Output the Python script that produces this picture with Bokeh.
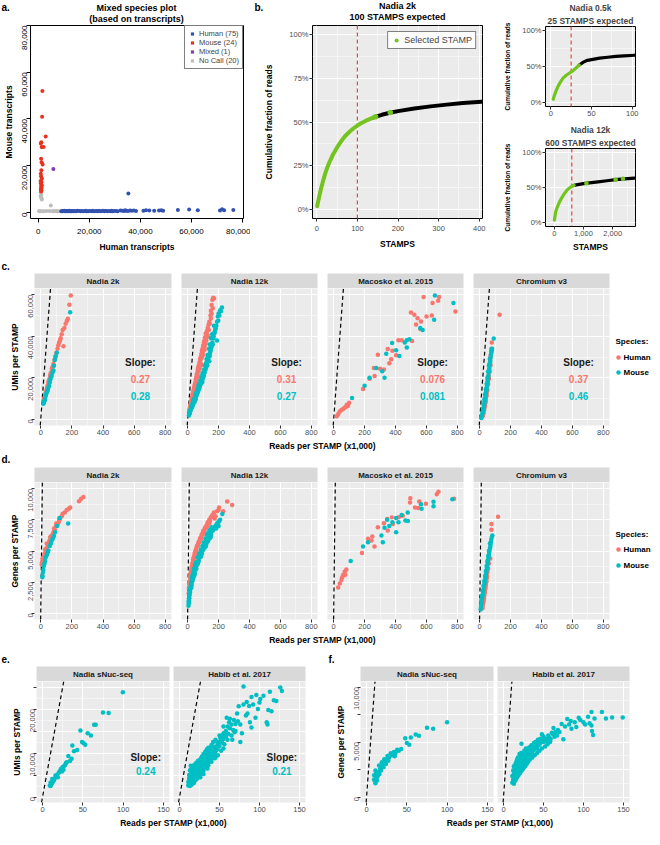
import math
from bokeh.plotting import figure
from bokeh.models import Range1d, FixedTicker, Span, Slope, Legend, LegendItem, Title
from bokeh.layouts import row, column
from bokeh.embed import file_html
from bokeh.resources import INLINE
from bokeh.core.properties import value

FONT = "Liberation Sans"
GG_RED = "#F8766D"
GG_TEAL = "#00BFC4"
PANEL_BG = "#EBEBEB"
STRIP_BG = "#D9D9D9"
GREEN = "#74C41F"
DASH_RED = "#E8473A"

# ---------------- data: panel a ----------------
a_human_x = [9000, 9300, 9500, 10000, 10200, 10400, 10900, 11100, 11300, 11800,
             12000, 12200, 12700, 12900, 13100, 13600, 13900, 14200, 14800, 15400,
             16100, 16600, 17000, 17600, 18300, 18600, 18900, 19500, 20100, 20800,
             21100, 21400, 22100, 22700, 23300, 23600, 24000, 24600, 25300, 25900,
             26200, 26500, 27100, 27800, 28400, 28700, 29000, 29700, 30500, 31100,
             32200, 32900, 33600, 34000, 34400, 35100, 35300, 35900, 36600, 37400,
             38300, 41200, 42200, 43500, 45400, 47300, 48200, 48900, 54700, 59100,
             62500, 71200, 72000, 72800, 76400]
a_human_y = [500, 650, 450, 600, 700, 500, 550, 650, 450, 600,
             500, 700, 550, 600, 450, 650, 500, 600, 550, 700,
             600, 450, 650, 500, 600, 700, 550, 500, 650, 600,
             450, 700, 550, 600, 500, 650, 600, 550, 700, 500,
             650, 600, 450, 600, 550, 700, 500, 650, 600, 550,
             800, 700, 650, 900, 750, 600, 8100, 850, 700, 800,
             650, 750, 900, 850, 700, 800, 950, 700, 1000, 1200,
             900, 800, 1400, 900, 1000]
a_mouse_x = [1600, 1500, 2900, 1200, 1000, 1300, 2100, 1100, 1300, 1700,
             1200, 1000, 1100, 1400, 900, 1300, 1000, 1200, 1400, 1100,
             1300, 1000, 1200, 1100]
a_mouse_y = [52000, 41000, 32500, 30000, 29500, 28000, 28000, 23000, 21500, 20500,
             18000, 16500, 15500, 14500, 13500, 13000, 12500, 12000, 11500, 11000,
             10500, 10000, 9500, 9000]
a_mixed_x = [5900]
a_mixed_y = [18600]
a_nocall_x = [1000, 1200, 900, 1100, 1300, 1400, 4900, 3200, 500, 800,
              1500, 2200, 4400, 5500, 6000, 6500, 7000, 7500, 8000, 300]
a_nocall_y = [8500, 7500, 7000, 6500, 6000, 5500, 3000, 600, 500, 450,
              550, 500, 600, 500, 550, 500, 600, 500, 550, 500]
a_ticks = [0, 20000, 40000, 60000, 80000]
a_tick_labels = ["0", "20,000", "40,000", "60,000", "80,000"]

# ---------------- data: panel b ----------------
b2k_sel_x = [1, 5, 10, 15, 20, 25, 30, 35, 40, 50, 60, 70, 80, 90, 100, 110, 120, 130, 140]
b2k_sel_y = [0.02, 0.065, 0.115, 0.16, 0.20, 0.235, 0.265, 0.29, 0.315, 0.355, 0.39, 0.42, 0.443,
             0.463, 0.48, 0.494, 0.506, 0.516, 0.526]
b2k_rest_x = [140, 160, 180, 200, 240, 280, 320, 360, 405]
b2k_rest_y = [0.526, 0.541, 0.553, 0.562, 0.577, 0.589, 0.599, 0.608, 0.616]
b2k_extra_x = [145, 181]
b2k_extra_y = [0.530, 0.554]

b05_sel_x = [3, 4, 6, 9, 12, 15, 19, 23, 27, 31, 35]
b05_sel_y = [0.05, 0.09, 0.15, 0.23, 0.29, 0.34, 0.38, 0.41, 0.44, 0.48, 0.52]
b05_rest_x = [35, 40, 45, 50, 60, 70, 80, 90, 103]
b05_rest_y = [0.52, 0.56, 0.585, 0.595, 0.615, 0.627, 0.638, 0.646, 0.655]

b12_sel_x = [5, 20, 50, 100, 170, 250, 340, 420, 510, 600, 680]
b12_sel_y = [0.04, 0.08, 0.16, 0.22, 0.29, 0.35, 0.41, 0.455, 0.49, 0.515, 0.53]
b12_rest_x = [680, 800, 1000, 1200, 1500, 1800, 2100, 2400, 2750]
b12_rest_y = [0.53, 0.54, 0.555, 0.565, 0.58, 0.595, 0.61, 0.622, 0.633]
b12_extra_x = [1100, 2100, 2350]
b12_extra_y = [0.56, 0.61, 0.622]

b_expected = [100, 25, 600]
b_pct_ticks = [0, 0.25, 0.5, 0.75, 1.0]
b_pct_labels = ["0%", "25%", "50%", "75%", "100%"]

# ---------------- data: panel c (reads x1000, UMIs x1000) ----------------
c_n2k_h = [(193, 59.6), (184, 55.2), (174, 48.4), (168, 47.5), (160, 46), (152, 44), (141, 43), (135, 41),
           (128, 39), (124, 38.1), (118, 37), (113, 35.7), (146, 35.2), (108, 34), (100, 32), (95, 30.5),
           (92, 29.2), (88, 28.5), (82, 26.8), (78, 25.5), (75, 25), (71, 24.3), (66, 22.5), (63, 21.8),
           (60, 21.1), (56, 19.5), (52, 18.5), (49, 17.9), (45, 16.5), (42, 15.5), (39, 14.6), (35, 13.5),
           (31, 12.5), (28, 11.4), (24, 10.5), (20, 9.5), (17, 8.9)]
c_n2k_m = [(189, 51.6), (103, 32), (96, 30.2), (90, 28.5), (85, 25.8), (82, 23.5), (76, 22.5), (70, 21),
           (66, 20.3), (62, 19.2), (58, 17.8), (54, 16.2), (50, 15.5), (46, 14.2), (42, 13.5), (39, 13),
           (35, 12), (32, 11.2), (28, 9.7), (25, 9.2), (22, 8.5), (19, 8), (17, 7.5)]
c_n12k_h = [(160, 57.6), (165, 58.5), (170, 58.2), (155, 55), (150, 52.3), (148, 50), (140, 47), (135, 45.5),
            (130, 44), (125, 42.5), (117, 41.4), (112, 39.5), (108, 38), (105, 37), (100, 35.5), (96, 34),
            (92, 33), (88, 31.5), (85, 30), (80, 29), (76, 27.5), (72, 26), (68, 25), (65, 24), (62, 22.5),
            (58, 21.5), (55, 20), (52, 19), (48, 17.5), (45, 16.5), (42, 15.5), (38, 14), (35, 13), (32, 12),
            (28, 10.5), (25, 9.5), (22, 8.5), (18, 7), (15, 6), (12, 5), (10, 4), (130, 40), (120, 38),
            (110, 35), (98, 31), (90, 29.5), (84, 27), (78, 24.5), (70, 23), (64, 20.5), (57, 18.5),
            (50, 16), (44, 14.5), (40, 13), (34, 11.5), (28, 9), (24, 8), (20, 7),
            (150, 48.5), (143, 46), (137, 43), (126, 41), (122, 39.5), (115, 36.5), (103, 34.5), (97, 32),
            (93, 30.5), (86, 29), (81, 27), (74, 25.5), (69, 24), (63, 21.5), (59, 20), (54, 18),
            (49, 16.8), (46, 15), (41, 14), (37, 12.5), (33, 11), (30, 10), (26, 8.8), (23, 7.5), (19, 6.5),
            (16, 5.5), (13, 4.5), (11, 3.5), (9, 3), (155, 51), (162, 53.5), (110, 33.5), (86, 26),
            (66, 21), (45, 14), (36, 11.8)]
c_n12k_m = [(222, 53.9), (210, 52.5), (200, 51), (195, 49.5), (190, 47), (181, 43.8), (175, 42), (168, 40),
            (160, 37), (155, 35), (149, 33.3), (145, 32), (140, 31), (135, 30), (130, 28), (127, 26),
            (120, 25), (115, 24), (110, 22.5), (105, 21), (100, 20), (95, 17.9), (90, 18.5), (85, 17),
            (80, 16), (75, 15), (70, 14), (65, 13), (60, 12), (55, 11), (52, 9.7), (48, 9.5), (45, 8.5),
            (40, 8), (35, 7), (30, 6), (25, 5.5), (20, 4.9), (15, 3.5), (10, 2.5), (8, 1.8), (170, 45),
            (158, 41), (150, 39), (142, 36), (138, 34), (128, 31), (122, 29), (118, 27), (112, 26),
            (106, 24), (100, 22.5), (94, 21), (88, 20), (82, 18.5), (76, 17), (70, 16), (64, 14.5),
            (58, 13), (52, 12), (46, 10.5), (40, 9.5), (34, 8), (28, 6.5), (22, 5.5), (16, 4), (12, 3),
            (215, 52), (205, 50), (198, 47.5), (186, 45), (178, 43), (172, 41.5), (165, 39), (162, 36),
            (152, 34.5), (147, 33), (143, 30.5), (132, 29), (124, 27.5), (117, 25.5), (108, 23.5),
            (103, 22), (97, 19.5), (91, 19), (86, 17.8), (79, 16.5), (73, 15.5), (67, 13.8), (62, 12.8),
            (57, 11.8), (50, 10.8), (44, 9.2), (38, 8.8), (32, 7.2), (27, 6), (23, 5.2), (18, 4.4),
            (14, 3.2), (11, 2.8), (190, 38), (140, 28), (96, 22), (72, 16.8), (54, 12.5), (36, 9), (26, 6.8)]
c_mac_h = [(582, 58.9), (682, 58.9), (676, 57.1), (640, 56), (788, 51.9), (500, 51.4), (522, 50.3), (635, 50),
           (601, 49.5), (543, 48.7), (565, 47.1), (533, 45.7), (560, 43.5), (419, 38.1), (440, 38.1),
           (507, 37.7), (350, 33.8), (380, 33), (404, 30.8), (286, 31.1), (372, 28.9), (360, 27), (260, 24.7),
           (300, 24.3), (325, 24), (265, 20.8), (232, 19.5), (190, 14.6), (93, 6.5), (80, 6), (61, 4.9),
           (39, 3.7), (50, 4.5), (70, 5.5), (30, 2.5), (20, 1.5), (85, 7), (100, 8)]
c_mac_m = [(655, 59.6), (775, 56), (650, 47.9), (576, 43), (473, 38.1), (490, 38.5), (378, 36.8), (473, 34.6),
           (404, 33.3), (425, 30.5), (340, 31.6), (275, 24.7), (314, 23.1), (329, 20), (232, 20), (200, 16.2),
           (119, 10.2), (560, 44), (460, 37)]
c_chr_h = [(129, 50.3), (78, 37), (76, 34), (74, 33), (72, 31), (70, 30), (68, 28.5), (66, 27), (64, 25.5),
           (62, 24), (60, 22.5), (58, 21), (56, 20), (54, 18.5), (52, 17), (50, 16), (48, 14.5), (46, 13.5),
           (44, 12.5), (42, 11), (40, 10), (38, 9), (36, 8), (34, 7), (32, 6), (30, 5), (28, 4.2), (26, 3.5),
           (24, 2.8), (22, 2.2), (20, 1.8), (18, 1.4), (70, 26), (65, 23), (60, 19.5), (55, 17), (50, 14),
           (45, 11.5), (40, 8.5), (35, 6.5)]
c_chr_m = [(91, 38.9), (80, 34), (78, 33), (75, 32), (72, 31), (70, 29.5), (68, 28), (66, 27), (64, 26),
           (62, 24.5), (60, 23.5), (58, 22.5), (56, 21), (54, 20), (52, 19), (50, 18), (48, 17), (46, 15.5),
           (44, 14.5), (42, 13.5), (40, 12.5), (38, 11.5), (36, 10.5), (34, 9.5), (32, 8.5), (30, 7.5),
           (28, 6.5), (26, 5.5), (24, 5), (22, 4), (20, 3.5), (18, 3), (16, 2.2), (14, 1.6), (12, 1),
           (10, 0.6), (65, 29), (60, 26), (55, 23), (50, 20), (45, 17), (40, 14.5), (35, 12), (30, 9.5),
           (25, 7), (20, 5)]
c_slope_h = ["0.27", "0.31", "0.076", "0.37"]
c_slope_m = ["0.28", "0.27", "0.081", "0.46"]

# ---------------- data: panel d (reads x1000, genes x1000) ----------------
d_n2k_h = [(274, 9.34), (246, 9.0), (260, 9.2), (189, 8.5), (180, 8.4), (167, 8.3), (155, 8.1), (141, 8.0),
           (135, 7.8), (124, 7.6), (115, 7.3), (108, 7.1), (98, 7.0), (90, 6.7), (82, 6.5), (75, 6.3),
           (68, 6.2), (60, 6.1), (55, 5.8), (50, 5.6), (45, 5.4), (39, 5.6), (35, 5.2), (28, 5.1), (25, 4.8),
           (20, 4.6), (15, 4.4), (11, 4.4), (8, 4.1), (6, 3.9), (100, 7.2), (85, 6.8), (120, 7.5)]
d_n2k_m = [(176, 7.2), (120, 7.65), (105, 7.0), (92, 6.5), (85, 6.2), (78, 6.0), (71, 5.85), (65, 5.6),
           (58, 5.4), (49, 5.05), (45, 4.9), (40, 4.7), (32, 4.5), (28, 4.2), (24, 4.0), (20, 3.8), (17, 3.5),
           (14, 3.3), (12, 3.0), (10, 2.9)]
d_n12k_h = [(256, 8.97), (288, 8.7), (203, 8.5), (170, 8.1), (160, 7.9), (150, 7.7), (140, 7.5), (130, 7.3),
            (120, 7.0), (110, 6.8), (100, 6.6), (90, 6.3), (80, 6.0), (70, 5.7), (60, 5.4), (50, 5.0),
            (45, 4.8), (40, 4.5), (35, 4.3), (30, 4.0), (25, 3.7), (20, 3.3), (15, 2.9), (10, 2.4), (8, 2.0),
            (140, 7.2), (125, 7.1), (115, 6.9), (95, 6.4), (85, 6.1), (75, 5.8), (65, 5.5), (55, 5.2),
            (48, 4.9), (42, 4.6), (38, 4.4), (33, 4.1), (28, 3.8), (22, 3.5), (18, 3.1), (12, 2.6),
            (180, 7.8), (190, 8.2), (175, 7.6), (145, 7.4), (135, 7.3), (128, 7.0), (118, 6.8), (108, 6.5),
            (98, 6.3), (88, 6.0), (78, 5.7), (68, 5.4), (58, 5.0), (52, 4.7), (46, 4.5), (43, 4.3), (36, 4.0),
            (31, 3.7), (26, 3.4), (21, 3.1), (16, 2.7), (13, 2.3), (9, 2.1), (6, 1.6), (165, 7.7), (200, 8.3),
            (230, 8.2)]
d_n12k_m = [(224, 7.97), (203, 7.4), (190, 7.2), (180, 7.0), (170, 6.8), (160, 6.6), (150, 6.4), (140, 6.2),
            (130, 6.0), (120, 5.8), (110, 5.5), (100, 5.3), (90, 5.0), (80, 4.7), (70, 4.4), (60, 4.1),
            (50, 3.7), (45, 3.5), (40, 3.3), (35, 3.0), (30, 2.8), (25, 2.5), (20, 2.2), (15, 1.9), (12, 1.6),
            (10, 1.5), (8, 1.2), (6, 0.9), (5, 0.6), (155, 6.9), (145, 6.7), (135, 6.5), (125, 6.3),
            (115, 6.0), (105, 5.7), (95, 5.4), (85, 5.1), (75, 4.8), (65, 4.5), (55, 4.1), (48, 3.9),
            (42, 3.6), (38, 3.4), (32, 3.1), (28, 2.9), (22, 2.5), (18, 2.1), (14, 1.8), (10, 1.2), (8, 0.8),
            (210, 7.5), (198, 7.3), (186, 7.1), (175, 6.9), (165, 6.7), (152, 6.3), (142, 6.0), (132, 5.8),
            (122, 5.6), (112, 5.3), (102, 5.1), (92, 4.8), (82, 4.5), (72, 4.2), (62, 3.9), (56, 3.6),
            (52, 3.5), (46, 3.2), (41, 3.0), (36, 2.8), (31, 2.6), (26, 2.3), (21, 2.0), (16, 1.7), (12, 1.4),
            (7, 1.0), (200, 7.0), (185, 6.8), (148, 6.1), (118, 5.4), (88, 4.6), (66, 4.0), (44, 3.1), (24, 2.1)]
d_mac_h = [(678, 9.76), (667, 9.55), (779, 9.2), (496, 9.24), (554, 8.97), (597, 8.8), (494, 8.9), (526, 8.5),
           (547, 8.45), (447, 7.83), (421, 7.7), (376, 7.7), (346, 7.57), (383, 7.17), (325, 7.22),
           (350, 6.64), (286, 6.9), (250, 6.17), (222, 5.98), (244, 5.85), (264, 5.37), (183, 4.84),
           (82, 3.52), (71, 3.33), (61, 3.07), (50, 2.67), (29, 2.06), (75, 3.1), (55, 2.9), (40, 2.4)]
d_mac_m = [(768, 9.16), (646, 8.95), (646, 8.6), (565, 8.76), (569, 8.4), (479, 8.1), (464, 7.44), (480, 7.4),
           (404, 7.65), (346, 7.5), (380, 7.3), (419, 7.3), (329, 6.86), (404, 6.5), (309, 6.25), (222, 5.7),
           (190, 5.37), (318, 5.7), (110, 4.2), (440, 7.9), (360, 7.0)]
d_chr_h = [(119, 7.75), (76, 7.17), (76, 6.7), (69, 4.4), (60, 4.0), (55, 3.6), (50, 3.3), (48, 3.0),
           (45, 2.8), (42, 2.5), (40, 2.3), (38, 2.1), (35, 1.9), (32, 1.6), (30, 1.4), (28, 1.2), (25, 1.0),
           (22, 0.8), (20, 0.6), (18, 0.4), (52, 3.5), (46, 2.9), (44, 2.6), (36, 2.0), (34, 1.7), (26, 1.1),
           (24, 0.9)]
d_chr_m = [(82, 6.25), (78, 6.1), (75, 5.9), (72, 5.7), (70, 5.5), (68, 5.3), (65, 5.1), (62, 4.9), (60, 4.7),
           (58, 4.5), (55, 4.3), (52, 4.1), (50, 3.9), (48, 3.7), (45, 3.5), (42, 3.3), (40, 3.1), (38, 2.9),
           (35, 2.7), (32, 2.5), (30, 2.3), (28, 2.1), (25, 1.9), (22, 1.7), (20, 1.5), (18, 1.3), (15, 1.1),
           (12, 0.9), (10, 0.7), (8, 0.5), (6, 0.3), (66, 5.6), (60, 5.0), (55, 4.6), (50, 4.2), (45, 3.8),
           (40, 3.4), (35, 3.0), (30, 2.6), (25, 2.2), (20, 1.8), (15, 1.4), (10, 1.0)]

facet_names = ["Nadia 2k", "Nadia 12k", "Macosko et al. 2015", "Chromium v3"]
species_names = ["Human", "Mouse"]

# ---------------- data: panels e, f (mouse only) ----------------
e_nuc = [(99.6, 23.8), (75, 19.2), (82, 19.1), (64, 16.4), (66, 16.4), (47, 15.1), (56, 14.5), (60, 14.0),
         (49, 12.5), (51, 12.2), (53, 11.9), (37, 11.7), (43, 10.7), (39, 10.4), (32, 9.3), (36, 8.7),
         (34, 8.2), (29, 7.7), (27, 7.1), (23, 6.4), (21, 5.7), (16, 4.9), (12, 4.1), (10, 3.3), (9, 2.6),
         (25, 6.8), (22, 6.0), (20, 5.5), (18, 5.0), (17, 4.6), (15, 4.2), (14, 3.8), (13, 3.5), (12, 3.2),
         (11, 2.9), (10, 2.5), (19, 4.5), (24, 5.8), (26, 6.2), (30, 7.9), (28, 7.3)]
e_habib = [(80, 25.1), (126, 24.9), (128, 24.1), (113, 23.9), (96, 23.2), (101, 22.3), (90, 22.7), (121, 21.8),
           (84, 21.6), (87, 20.7), (98, 20), (111, 19.8), (74, 20.6), (59, 18), (63, 17.8), (83, 18.5),
           (65, 16.5), (76, 16.5), (109, 17), (110, 16.5), (90, 15.8), (69, 14.7), (76, 12.5), (53, 13.9),
           (14, 7.1), (60, 16), (58, 15), (55, 14.5), (52, 13), (50, 12.5), (48, 12), (46, 11.5), (45, 11),
           (43, 10.5), (42, 10), (40, 9.8), (38, 9.5), (37, 9), (35, 8.5), (34, 8), (32, 7.8), (30, 7.5),
           (29, 7), (28, 6.8), (27, 6.5), (26, 6.2), (25, 6), (24, 5.8), (23, 5.5), (22, 5.2), (21, 5),
           (20, 4.8), (19, 4.5), (18, 4.3), (17, 4), (16, 3.8), (15, 3.5), (14, 3.2), (13, 3), (12, 2.8),
           (13, 2.5), (15, 2.8), (18, 3.2), (20, 3.8), (22, 4.2), (25, 5), (28, 5.5), (30, 6), (33, 6.8),
           (36, 7.2), (40, 8), (44, 8.8), (48, 9.5), (52, 10.5), (56, 12), (60, 13), (65, 14), (70, 15),
           (50, 14), (45, 13), (40, 11.5), (35, 10), (30, 9), (25, 7.5), (20, 6.5), (16, 5.5), (14, 4.5),
           (12, 3.8), (55, 16), (62, 17), (68, 17.5), (72, 19), (80, 21), (85, 19), (92, 21), (100, 21.5),
           (105, 23), (115, 19.5), (118, 22), (95, 18), (88, 17), (78, 14.5), (66, 13), (42, 12.5),
           (38, 11), (34, 9.5), (28, 8), (24, 7), (18, 5.8), (14, 5), (26, 4.5), (30, 5.2), (35, 6.5),
           (45, 9), (55, 11),
           (11, 2.6), (11, 3.4), (12, 4.2), (12, 5), (13, 3.6), (13, 4.8), (13, 6), (14, 2.8), (14, 3.9),
           (14, 6.2), (15, 3.1), (15, 4.4), (15, 5.6), (16, 3), (16, 4.6), (16, 6.4), (17, 3.3), (17, 5.2),
           (17, 6.8), (18, 3.6), (18, 4.9), (18, 7.2), (19, 3.8), (19, 5.5), (19, 6.9), (20, 4.1), (20, 5.9),
           (20, 7.5), (21, 4.3), (21, 6.2), (21, 7.8), (22, 4.6), (22, 6.6), (23, 4.4), (23, 6.9), (23, 8.2),
           (24, 5), (24, 7.6), (25, 5.4), (25, 8.4), (26, 5.1), (26, 7.9), (27, 5.8), (27, 8.8), (28, 6.1),
           (28, 9.2), (29, 5.9), (29, 8.4), (30, 6.6), (30, 9.8), (31, 7), (31, 8.6), (32, 6.8), (32, 10.2),
           (33, 7.4), (33, 9.4), (34, 7.9), (34, 10.8), (35, 7.6), (35, 9.1), (36, 8.4), (36, 11.2), (37, 8),
           (38, 8.6), (38, 10.4), (39, 9.2), (40, 8.8), (40, 11.8), (41, 9.6), (42, 9.2), (43, 11.4),
           (44, 9.9), (45, 10.4), (46, 12.6), (47, 10.8), (48, 11.3), (50, 11.6), (51, 13.4), (53, 12.4),
           (55, 13.2), (57, 14.6), (58, 13.8), (61, 14.4), (63, 15.6), (67, 15.2), (70, 16.6), (73, 17.2)]
f_nuc = [(99.9, 6.79), (75, 6.3), (82.6, 6.2), (65, 5.57), (61, 5.68), (55, 5.42), (48, 5.33), (53, 4.75),
         (50, 4.9), (43, 4.37), (38, 4.3), (34, 4.08), (30, 3.97), (26, 3.73), (22, 3.44), (19, 3.15),
         (15.5, 2.86), (11, 2.42), (9.4, 1.98), (9.4, 1.6), (11, 1.26), (13, 2.0), (15, 2.3), (17, 2.6),
         (20, 2.9), (23, 3.2), (25, 3.4), (28, 3.6), (12, 1.7), (14, 1.9), (16, 2.1), (18, 2.4), (21, 2.7),
         (24, 3.0), (27, 3.3), (32, 3.8), (36, 4.0), (40, 4.2), (10, 1.5), (13, 1.5), (12, 2.2), (35, 3.7)]
f_habib = [(135.7, 7.23), (149, 7.23), (123, 7.73), (110, 7.73), (105.7, 7.3), (113.8, 7.14), (128, 7.14),
           (79.7, 7.08), (72.7, 6.64), (91, 6.36), (107.6, 6.7), (110, 6.5), (110.6, 6.0), (112, 5.63),
           (89, 6.79), (62.5, 6.27), (60.4, 5.83), (48, 5.71), (64, 5.48), (74.8, 5.24), (58.3, 5.04),
           (22.5, 4.84), (100, 6.8), (96, 7.0), (102, 6.6), (85, 6.2), (82, 6.6), (70, 5.9), (67, 5.6),
           (55, 5.3), (12, 1.4), (13, 1.8), (14, 2.2), (15, 2.5), (16, 2.8), (17, 3.0), (18, 3.2), (19, 3.4),
           (20, 3.5), (22, 3.7), (24, 3.9), (26, 4.0), (28, 4.2), (30, 4.3), (32, 4.5), (35, 4.7), (38, 4.9),
           (40, 5.0), (43, 5.2), (46, 5.3), (50, 5.5), (13, 1.2), (15, 1.5), (17, 1.8), (19, 2.0), (21, 2.2),
           (23, 2.4), (25, 2.6), (27, 2.8), (29, 3.0), (31, 3.2), (33, 3.4), (36, 3.6), (39, 3.8), (42, 4.0),
           (45, 4.2), (48, 4.4), (52, 4.6), (55, 4.8), (58, 5.0), (14, 1.6), (16, 2.0), (18, 2.5), (20, 2.8),
           (22, 3.0), (24, 3.3), (26, 3.5), (28, 3.7), (30, 3.9), (34, 4.1), (37, 4.3), (41, 4.5), (44, 4.7),
           (50, 5.0), (25, 3.0), (30, 3.5), (35, 4.0), (40, 4.4), (20, 2.3), (16, 1.7), (33, 3.9), (38, 4.6),
           (45, 4.8), (53, 5.2), (57, 5.4),
           (11, 1.3), (11, 1.9), (12, 1.6), (12, 2.4), (13, 2.1), (13, 2.8), (14, 1.8), (14, 2.6), (15, 2.0),
           (15, 3.0), (16, 2.4), (16, 3.2), (17, 2.2), (17, 2.7), (17, 3.4), (18, 2.0), (18, 2.9), (18, 3.6),
           (19, 2.6), (19, 3.1), (20, 2.2), (20, 3.3), (20, 3.9), (21, 2.6), (21, 3.5), (22, 2.8), (22, 3.4),
           (22, 4.0), (23, 2.7), (23, 3.6), (24, 3.1), (24, 3.7), (25, 2.9), (25, 3.8), (26, 3.2), (26, 4.2),
           (27, 3.4), (27, 3.9), (28, 3.3), (28, 4.4), (29, 3.6), (30, 3.4), (30, 4.1), (31, 3.8), (32, 3.7),
           (32, 4.3), (33, 4.0), (34, 3.9), (34, 4.6), (35, 4.3), (36, 4.1), (37, 4.6), (38, 4.3), (39, 4.7),
           (40, 4.6), (41, 4.9), (42, 4.4), (43, 4.8), (44, 5.0), (46, 4.9), (47, 5.2), (49, 5.1), (51, 5.3),
           (54, 5.1), (56, 5.6), (59, 5.3), (62, 5.7), (65, 5.9), (68, 6.1), (77, 6.4), (84, 6.9), (94, 7.2)]
ef_names = ["Nadia sNuc-seq", "Habib et al. 2017"]
e_slopes = ["0.24", "0.21"]


# ---------------- helpers ----------------
def make_fig(w, h, left, right, top, bottom, xr, yr, bg):
    return figure(width=w, height=h, x_range=Range1d(*xr), y_range=Range1d(*yr),
                  output_backend="svg", toolbar_location=None, title=None,
                  min_border_left=left, min_border_right=right,
                  min_border_top=top, min_border_bottom=bottom,
                  background_fill_color=bg, border_fill_color="white",
                  outline_line_color=None)


def blank(p):
    p.xaxis.visible = False
    p.yaxis.visible = False
    p.xgrid.visible = False
    p.ygrid.visible = False


def gg_axis(ax, ticks, labels, minor, vertical=False, size="7.5px", color="#4D4D4D", tick_color="#333333"):
    ax.ticker = FixedTicker(ticks=ticks, minor_ticks=minor)
    ax.major_label_overrides = {t: l for t, l in zip(ticks, labels)}
    ax.axis_line_color = None
    ax.major_tick_line_color = tick_color
    ax.major_tick_out = 3
    ax.major_tick_in = 0
    ax.minor_tick_line_color = None
    ax.major_label_text_font = FONT
    ax.major_label_text_font_size = size
    ax.major_label_text_color = color
    ax.major_label_standoff = 1
    ax.axis_label_text_font = FONT
    ax.axis_label_text_font_size = "8.5px"
    ax.axis_label_text_font_style = "bold"
    ax.axis_label_text_color = "black"
    ax.axis_label_standoff = 3
    if vertical:
        ax.major_label_orientation = math.pi / 2


def gg_grid(p, xt, xm, yt, ym):
    p.xgrid.ticker = FixedTicker(ticks=xt, minor_ticks=xm)
    p.ygrid.ticker = FixedTicker(ticks=yt, minor_ticks=ym)
    for g in (p.xgrid, p.ygrid):
        g.grid_line_color = "white"
        g.grid_line_width = 1.1
        g.minor_grid_line_color = "white"
        g.minor_grid_line_width = 0.5


def pixel_fig(w, h):
    """A stand-alone figure whose frame is the whole canvas, measured in pixels (y upwards)."""
    p = make_fig(w, h, 0, 0, 0, 0, (0, w), (0, h), "white")
    blank(p)
    return p


def put_text(p, xs, ys, texts, size, align="center", baseline="middle", style="bold", color="black"):
    p.text(x=xs, y=ys, text=texts, text_align=align, text_baseline=baseline,
           text_font=value(FONT), text_font_style=style, text_font_size=size, text_color=color)


def strip_fig(w, left, right, name):
    p = make_fig(w, 15, left, right, 0, 0, (0, 1), (0, 1), STRIP_BG)
    blank(p)
    put_text(p, [0.5], [0.5], [name], "8px", color="#1A1A1A")
    return p


def legend_fig(w, h, y_title, y_first, step):
    p = pixel_fig(w, h)
    put_text(p, [1], [y_title], ["Species:"], "8px", align="left")
    ys = [y_first, y_first - step]
    p.scatter([4, 4], ys, size=4.5, color=[GG_RED, GG_TEAL], line_color=None)
    put_text(p, [9, 9], ys, species_names, "8px", align="left")
    return p


def xs_of(pairs):
    return [q[0] for q in pairs]


def ys_of(pairs):
    return [q[1] for q in pairs]


# ---------------- header for panels a and b ----------------
header = pixel_fig(492, 24)
put_text(header, [1, 254], [23, 23], ["a.", "b."], "10px", align="left", baseline="top")
put_text(header, [136, 136], [17, 6], ["Mixed species plot", "(based on transcripts)"], "9px")
put_text(header, [397, 397], [19, 8], ["Nadia 2k", "100 STAMPS expected"], "9px")

# ---------------- panel a ----------------
pa = make_fig(250, 230, 29, 7, 1, 36, (-3050, 80400), (-2600, 80000), "white")
pa.outline_line_color = "black"
pa.outline_line_width = 1
for ax, vert in ((pa.xaxis[0], False), (pa.yaxis[0], True)):
    gg_axis(ax, a_ticks, a_tick_labels, [], vertical=vert, size="8px", color="black", tick_color="black")
    ax.major_tick_out = 4
    ax.major_label_standoff = 2
pa.xaxis.major_label_standoff = 6
pa.xaxis.axis_label_standoff = 5
pa.xaxis.axis_label = "Human transcripts"
pa.yaxis.axis_label = "Mouse transcripts"
pa.xgrid.visible = False
pa.ygrid.visible = False
a_series = [("Human", a_human_x, a_human_y, "#3352B0"),
            ("Mouse", a_mouse_x, a_mouse_y, "#E8321E"),
            ("Mixed", a_mixed_x, a_mixed_y, "#7E3CB8"),
            ("No Call", a_nocall_x, a_nocall_y, "#BDBDBD")]
a_items = []
for name, xs, ys, col in reversed(a_series):
    pa.scatter(xs, ys, size=4, color=col, line_color=None)
for name, xs, ys, col in a_series:
    rl = pa.scatter(xs, ys, marker="square", size=0, color=col, line_color=None)
    a_items.append(LegendItem(label=f"{name} ({len(xs)})", renderers=[rl]))
leg_a = Legend(items=a_items, location="top_right", margin=0, padding=3, spacing=0,
               label_height=9, glyph_height=9, glyph_width=8, label_standoff=3,
               label_text_font=FONT, label_text_font_size="7.5px",
               border_line_color="black", border_line_width=1, background_fill_color="white")
pa.add_layout(leg_a)


# ---------------- panel b ----------------
def b_panel(w, h, left, right, top, bottom, xr, xt, xtl, xm, yt, ytl, ym, titles, sel, rest, extra,
            expected, xlabel, lw, ystand, ysize):
    p = make_fig(w, h, left, right, top, bottom, xr, (-0.05, 1.05), PANEL_BG)
    p.outline_line_color = "black"
    p.outline_line_width = 1
    gg_axis(p.xaxis[0], xt, xtl, [])
    gg_axis(p.yaxis[0], yt, ytl, [])
    p.yaxis.axis_label = "Cumulative fraction of reads"
    p.yaxis.axis_label_standoff = ystand
    p.yaxis.axis_label_text_font_size = ysize
    if xlabel:
        p.xaxis.axis_label = xlabel
    gg_grid(p, xt, xm, yt, ym)
    p.add_layout(Span(location=expected, dimension="height", line_color=DASH_RED,
                      line_dash="4 3", line_width=1.2, level="underlay"))
    p.line(rest[0], rest[1], color="black", line_width=lw, line_cap="round")
    p.line(sel[0], sel[1], color=GREEN, line_width=lw, line_cap="round")
    r = None
    if extra:
        r = p.scatter(extra[0], extra[1], size=lw + 1.5, color=GREEN, line_color=None)
    if titles:
        p.add_layout(Title(text=titles[1], align="center", text_font=FONT, text_font_size="8.5px",
                           text_font_style="bold", standoff=2), "above")
        p.add_layout(Title(text=titles[0], align="center", text_font=FONT, text_font_size="8.5px",
                           text_font_style="bold", standoff=0), "above")
    return p, r


pb, rsel = b_panel(242, 230, 62, 10, 1, 33, (-10.5, 408), [0, 100, 200, 300, 400],
                   ["0", "100", "200", "300", "400"], [50, 150, 250, 350],
                   b_pct_ticks, b_pct_labels, [0.125, 0.375, 0.625, 0.875],
                   None, (b2k_sel_x, b2k_sel_y), (b2k_rest_x, b2k_rest_y),
                   (b2k_extra_x, b2k_extra_y), b_expected[0], "STAMPS", 4, 12, "8.5px")
pb.xaxis.major_label_standoff = 4
pb.xaxis.axis_label_standoff = 5
leg_b = Legend(items=[LegendItem(label="Selected STAMP", renderers=[rsel])], location="top_right",
               margin=6, padding=3, label_text_font=FONT, label_text_font_size="9px",
               glyph_width=10, glyph_height=10, label_height=10, label_standoff=3,
               border_line_color="black", border_line_width=1, background_fill_color="white")
pb.add_layout(leg_b)

small_yt = [0, 0.5, 1.0]
small_ytl = ["0%", "50%", "100%"]
pb05, _ = b_panel(152, 122, 53, 9, 20, 16, (-6.5, 104), [0, 50, 100], ["0", "50", "100"], [25, 75],
                  small_yt, small_ytl, [0.25, 0.75],
                  ("Nadia 0.5k", "25 STAMPS expected"), (b05_sel_x, b05_sel_y), (b05_rest_x, b05_rest_y),
                  None, b_expected[1], None, 3.2, 8, "6.5px")
pb12, _ = b_panel(152, 132, 53, 9, 20, 23, (-300, 2780), [0, 1000, 2000], ["0", "1,000", "2,000"],
                  [500, 1500, 2500], small_yt, small_ytl, [0.25, 0.75],
                  ("Nadia 12k", "600 STAMPS expected"), (b12_sel_x, b12_sel_y), (b12_rest_x, b12_rest_y),
                  (b12_extra_x, b12_extra_y), b_expected[2], "STAMPS", 3.2, 8, "6.5px")

row1 = row(column(header, row(pa, pb)), column(pb05, pb12))


# ---------------- panels c, d ----------------
cd_widths = [176, 146, 146, 146]
cd_lefts = [34, 5, 5, 5]
cd_rights = [5, 5, 5, 5]
reads_ticks = [0, 200, 400, 600, 800]
reads_labels = ["0", "200", "400", "600", "800"]
reads_minor = [100, 300, 500, 700]


def facet_plot(w, h, left, right, bottom, xr, yr, xt, xtl, xm, yt, ytl, ym, show_y, ylabel):
    p = make_fig(w, h, left, right, 0, bottom, xr, yr, PANEL_BG)
    gg_axis(p.xaxis[0], xt, xtl, [])
    if show_y:
        gg_axis(p.yaxis[0], yt, ytl, [], vertical=True)
        p.yaxis.axis_label = ylabel
    else:
        p.yaxis.visible = False
    gg_grid(p, xt, xm, yt, ym)
    p.add_layout(Slope(gradient=1, y_intercept=0, line_color="black", line_dash="4 3",
                       line_width=1.2, level="underlay"))
    return p


def cd_row(letter, letter_h, letter_y, plot_h, ytop, yt, ytl, ym, ylabel, data_h, data_m,
           slopes, leg_pos):
    lf = pixel_fig(644, letter_h)
    put_text(lf, [1], [letter_y], [letter], "10px", align="left", baseline="middle")
    cols = []
    for i in range(4):
        s = strip_fig(cd_widths[i], cd_lefts[i], cd_rights[i], facet_names[i])
        p = facet_plot(cd_widths[i], plot_h, cd_lefts[i], cd_rights[i], 14, (-40, 840), ytop,
                       reads_ticks, reads_labels, reads_minor, yt, ytl, ym, i == 0, ylabel)
        p.scatter(xs_of(data_h[i]), ys_of(data_h[i]), size=4.5, color=GG_RED, line_color=None)
        p.scatter(xs_of(data_m[i]), ys_of(data_m[i]), size=4.5, color=GG_TEAL, line_color=None)
        if slopes is not None:
            p.text(x=[640, 640, 640], y=[27.2, 19.5, 11.4], text=["Slope:", slopes[0][i], slopes[1][i]],
                   text_align="center", text_baseline="middle", text_font=value(FONT),
                   text_font_style="bold", text_font_size="10px",
                   text_color=["#1A1A1A", GG_RED, GG_TEAL])
        cols.append(column(s, p))
    cols.append(legend_fig(37, 15 + plot_h, *leg_pos))
    t = pixel_fig(644, 13)
    put_text(t, [322], [6.5], ["Reads per STAMP (x1,000)"], "8.5px")
    return column(lf, row(*cols), t)


row_c = cd_row("c.", 19, 7, 151, (-3, 63), [0, 20, 40, 60], ["0", "20,000", "40,000", "60,000"],
               [10, 30, 50], "UMIs per STAMP",
               [c_n2k_h, c_n12k_h, c_mac_h, c_chr_h], [c_n2k_m, c_n12k_m, c_mac_m, c_chr_m],
               (c_slope_h, c_slope_m), (98, 82, 15))
row_d = cd_row("d.", 15, 8, 151, (-0.5, 10.5), [0, 2.5, 5, 7.5, 10],
               ["0", "2,500", "5,000", "7,500", "10,000"], [1.25, 3.75, 6.25, 8.75], "Genes per STAMP",
               [d_n2k_h, d_n12k_h, d_mac_h, d_chr_h], [d_n2k_m, d_n12k_m, d_mac_m, d_chr_m], None,
               (99, 84, 16))

# ---------------- panels e, f ----------------
ef_widths = [171, 139, 185, 149]
ef_lefts = [36, 2, 50, 2]
ef_rights = [2, 5, 2, 15]
ef_xt = [0, 50, 100, 150]
ef_xtl = ["0", "50", "100", "150"]
ef_xm = [25, 75, 125]
e_yt = [0, 5, 10, 15, 20, 25]
e_ytl = ["0", "", "10,000", "", "20,000", ""]
f_yt = [0, 2.5, 5, 7.5, 10]
f_ytl = ["0", "", "5,000", "", "10,000"]

ef_letters = pixel_fig(644, 20)
put_text(ef_letters, [1, 328], [8, 7], ["e.", "f."], "10px", align="left", baseline="middle")

ef_cols = []
ef_data = [e_nuc, e_habib, f_nuc, f_habib]
for i in range(4):
    s = strip_fig(ef_widths[i], ef_lefts[i], ef_rights[i], ef_names[i % 2])
    if i < 2:
        p = facet_plot(ef_widths[i], 135, ef_lefts[i], ef_rights[i], 14, (-7.5, 157.5), (-1.25, 26.25),
                       ef_xt, ef_xtl, ef_xm, e_yt, e_ytl, [2.5, 7.5, 12.5, 17.5, 22.5], i == 0,
                       "UMIs per STAMP")
    else:
        p = facet_plot(ef_widths[i], 135, ef_lefts[i], ef_rights[i], 14, (-7.5, 157.5), (-0.5, 10.5),
                       ef_xt, ef_xtl, ef_xm, f_yt, f_ytl, [1.25, 3.75, 6.25, 8.75], i == 2,
                       "Genes per STAMP")
    p.scatter(xs_of(ef_data[i]), ys_of(ef_data[i]), size=4.5, color=GG_TEAL, line_color=None)
    if i < 2:
        p.text(x=[128, 128], y=[8.9, 5.8], text=["Slope:", e_slopes[i]], text_align="center",
               text_baseline="middle", text_font=value(FONT), text_font_style="bold",
               text_font_size="10px", text_color=["#1A1A1A", GG_TEAL])
    ef_cols.append(column(s, p))
ef_title = pixel_fig(644, 13)
put_text(ef_title, [173, 499.5], [6.5, 6.5], ["Reads per STAMP (x1,000)", "Reads per STAMP (x1,000)"], "8.5px")
row_ef = column(ef_letters, row(*ef_cols), ef_title)

layout = column(row1, row_c, row_d, row_ef)
open("out.html", "w").write(file_html(layout, INLINE, "Figure"))
